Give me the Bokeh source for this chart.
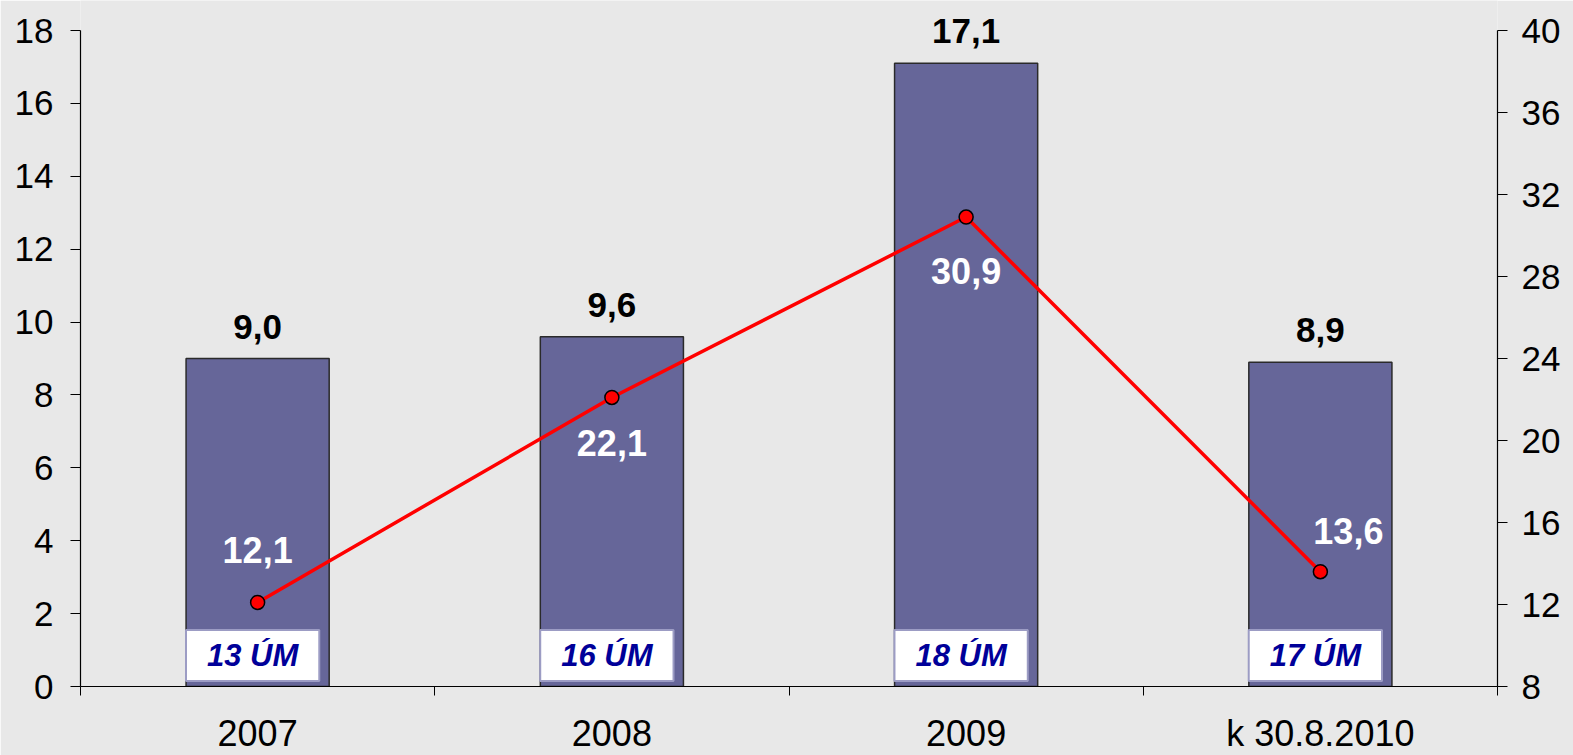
from bokeh.plotting import figure
from bokeh.models import ColumnDataSource, Range1d, LinearAxis, FixedTicker
from bokeh.core.properties import value
from bokeh.embed import file_html
from bokeh.resources import INLINE

categories = ["2007", "2008", "2009", "k 30.8.2010"]
bar_values = [9.0, 9.6, 17.1, 8.9]
line_values = [12.1, 22.1, 30.9, 13.6]
box_labels = ["13 ÚM", "16 ÚM", "18 ÚM", "17 ÚM"]
left_ticks = list(range(0, 20, 2))
right_ticks = list(range(8, 44, 4))

# layout-only offsets (screen px) for the line value labels
line_label_dx = [0, 0, 0, 28]
line_label_dy = [-52, 46, 54, -41]

FONT = "Liberation Sans"

LEFT_MIN, LEFT_MAX = 0, 18
RIGHT_MIN, RIGHT_MAX = 8, 40
AXIS_PX = 656      # pixel height of the axis span
FRAME_PX = 686     # frame extends above the axis top so labels are not clipped
scale = FRAME_PX / AXIS_PX


def fmt(v):
    return f"{v:.1f}".replace(".", ",")


xc = [i + 0.5 for i in range(len(categories))]
src = ColumnDataSource(dict(
    x=xc, bar=bar_values, line=line_values,
    bar_lbl=[fmt(v) for v in bar_values],
    line_lbl=[fmt(v) for v in line_values],
    box=box_labels, dx=line_label_dx, dy=line_label_dy,
    zero=[0] * len(xc),
))

bg = "#e8e8e8"
p = figure(frame_width=1417, frame_height=FRAME_PX,
           min_border_left=80, min_border_right=76, min_border_top=0, min_border_bottom=62,
           x_range=Range1d(0, 4),
           y_range=Range1d(LEFT_MIN, LEFT_MIN + (LEFT_MAX - LEFT_MIN) * scale),
           output_backend="svg", toolbar_location=None,
           x_axis_location=None, y_axis_location=None)
p.extra_y_ranges = {"right": Range1d(RIGHT_MIN, RIGHT_MIN + (RIGHT_MAX - RIGHT_MIN) * scale)}
p.background_fill_color = bg
p.border_fill_color = bg
p.outline_line_color = None
p.xgrid.visible = False
p.ygrid.visible = False

# axes
xaxis = LinearAxis(ticker=FixedTicker(ticks=xc, minor_ticks=[0, 1, 2, 3, 4]),
                   major_label_overrides={x: c for x, c in zip(xc, categories)})
xaxis.major_tick_out = 0
xaxis.major_tick_in = 0
xaxis.minor_tick_out = 9
xaxis.minor_tick_in = 0
xaxis.minor_tick_line_color = "black"
xaxis.axis_line_color = "black"
xaxis.axis_line_width = 1.2
xaxis.major_label_standoff = 17
xaxis.major_label_text_font = FONT
xaxis.major_label_text_font_size = "36px"
xaxis.major_label_text_color = "black"
p.add_layout(xaxis, "below")

yaxis = LinearAxis(ticker=FixedTicker(ticks=left_ticks, minor_ticks=[]), bounds=(LEFT_MIN, LEFT_MAX))
yaxis.major_tick_out = 10
yaxis.major_tick_in = 0
yaxis.major_label_standoff = 17
yaxis.axis_line_color = "black"
yaxis.axis_line_width = 1.2
yaxis.major_label_text_font = FONT
yaxis.major_label_text_font_size = "35px"
yaxis.major_label_text_color = "black"
p.add_layout(yaxis, "left")

raxis = LinearAxis(y_range_name="right", ticker=FixedTicker(ticks=right_ticks, minor_ticks=[]),
                   bounds=(RIGHT_MIN, RIGHT_MAX))
raxis.major_tick_out = 10
raxis.major_tick_in = 0
raxis.major_label_standoff = 14
raxis.axis_line_color = "black"
raxis.axis_line_width = 1.2
raxis.major_label_text_font = FONT
raxis.major_label_text_font_size = "35px"
raxis.major_label_text_color = "black"
p.add_layout(raxis, "right")

# bars
p.vbar(x="x", top="bar", width=0.404, source=src,
       fill_color="#666699", line_color="#2a2a2a", line_width=1.5)

# bar value labels
p.text(x="x", y="bar", text="bar_lbl", source=src, y_offset=-32,
       text_align="center", text_baseline="middle",
       text_font=value(FONT), text_font_style="bold", text_font_size="35px",
       text_color="black")

# line
p.line(x="x", y="line", source=src, y_range_name="right",
       line_color="#ff0000", line_width=3.5)
p.scatter(x="x", y="line", source=src, y_range_name="right", size=14,
          fill_color="#ff0000", line_color="black", line_width=1.5)

# line value labels
p.text(x="x", y="line", text="line_lbl", source=src, y_range_name="right",
       x_offset="dx", y_offset="dy",
       text_align="center", text_baseline="middle",
       text_font=value(FONT), text_font_style="bold", text_font_size="36px",
       text_color="white")

# boxed labels at bar bottoms
p.text(x="x", y="zero", text="box", source=src, y_offset=-31, x_offset=-5,
       text_align="center", text_baseline="middle",
       text_font=value(FONT), text_font_style="bold italic", text_font_size="31px",
       text_color="#000099",
       padding=dict(x=21, y=8),
       background_fill_color="white",
       border_line_color="#9c9cc4", border_line_width=2)

open("out.html", "w").write(file_html(p, INLINE))
